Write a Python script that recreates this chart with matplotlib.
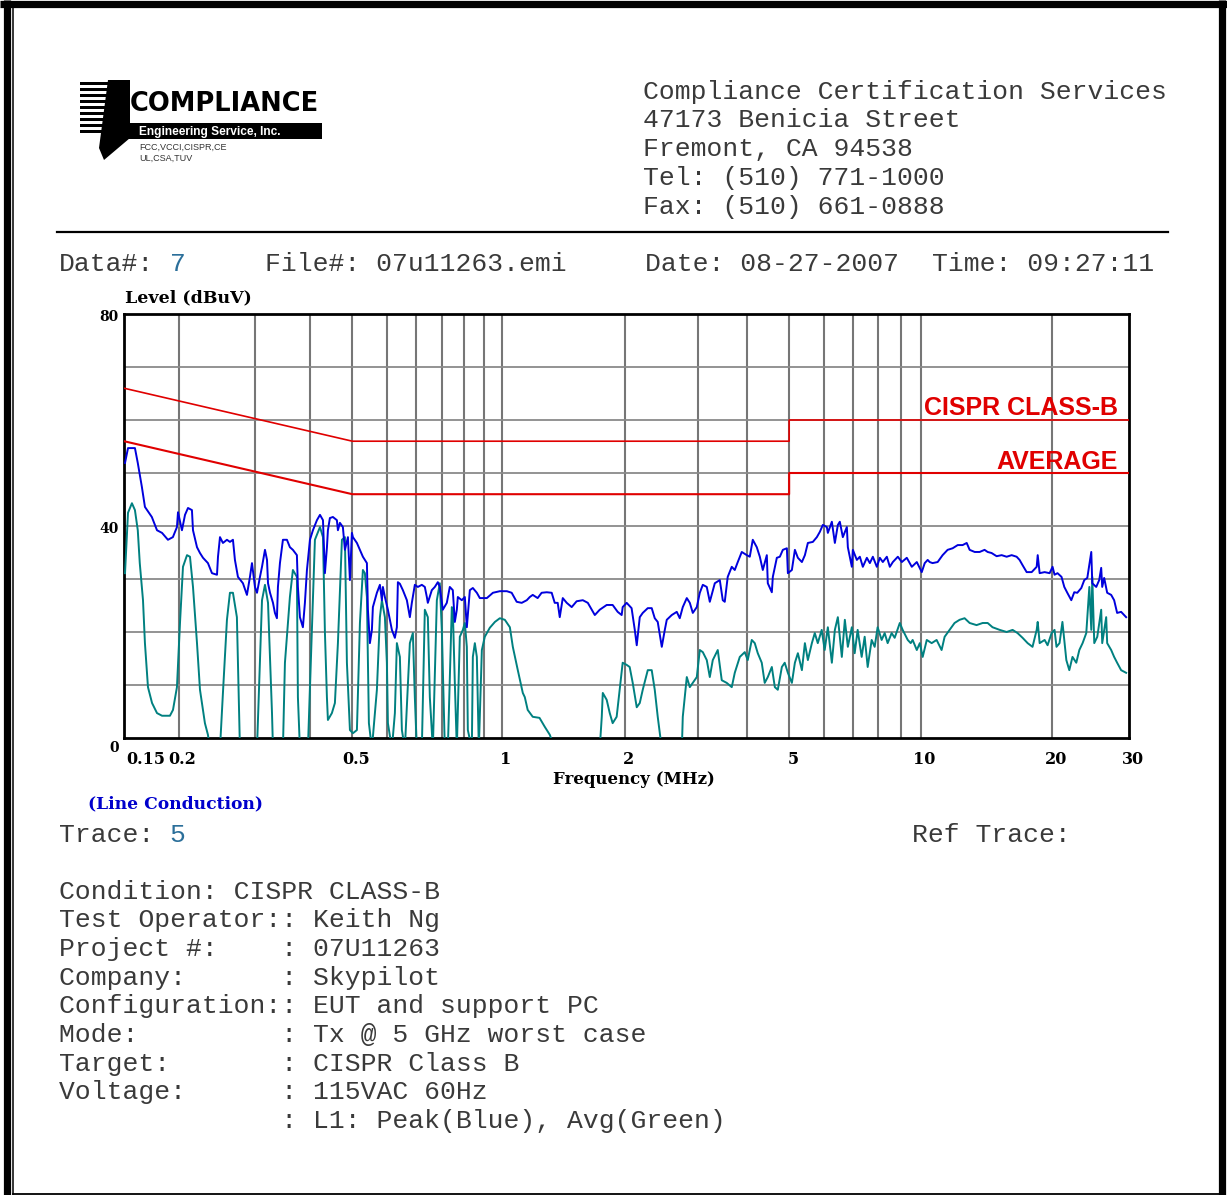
import matplotlib
matplotlib.use('Agg')
import matplotlib.pyplot as plt
import matplotlib.transforms as mtransforms
from matplotlib import font_manager
from matplotlib.patches import Rectangle, Polygon

# ---------------- data ----------------
# peak trace (blue), MHz / dBuV
peak_freq = [
    0.1508, 0.1532, 0.1589, 0.1613, 0.1648, 0.1675, 0.1737, 0.1785, 0.1833, 0.1891,
    0.1941, 0.1983, 0.1994, 0.2036, 0.2069, 0.2102, 0.2146, 0.2158, 0.2204, 0.2239,
    0.2275, 0.2335, 0.2385, 0.2449, 0.2462, 0.2488, 0.2527, 0.2581, 0.2622, 0.2664,
    0.2692, 0.2735, 0.2808, 0.2868, 0.2914, 0.2945, 0.2992, 0.3024, 0.3072, 0.3105,
    0.3154, 0.3188, 0.3205, 0.3239, 0.3290, 0.3324, 0.3359, 0.3377, 0.3413, 0.3467,
    0.3541, 0.3597, 0.3654, 0.3732, 0.3752, 0.3792, 0.3852, 0.3893, 0.3935, 0.3998,
    0.4061, 0.4148, 0.4215, 0.4282, 0.4326, 0.4372, 0.4395, 0.4441, 0.4512, 0.4608,
    0.4633, 0.4682, 0.4756, 0.4807, 0.4884, 0.4936, 0.4988, 0.5014, 0.5121, 0.5203,
    0.5285, 0.5398, 0.5427, 0.5484, 0.5542, 0.5571, 0.5690, 0.5781, 0.5842, 0.5873,
    0.5935, 0.6030, 0.6158, 0.6256, 0.6322, 0.6356, 0.6423, 0.6525, 0.6664, 0.6770,
    0.6841, 0.6950, 0.7061, 0.7211, 0.7326, 0.7404, 0.7443, 0.7601, 0.7722, 0.7845,
    0.7928, 0.8054, 0.8226, 0.8357, 0.8490, 0.8581, 0.8672, 0.8718, 0.8904, 0.9046,
    0.9142, 0.9288, 0.9436, 0.9637, 0.9790, 1.016, 1.049, 1.088, 1.129, 1.158,
    1.189, 1.221, 1.254, 1.274, 1.294, 1.328, 1.356, 1.393, 1.430, 1.453,
    1.476, 1.492, 1.516, 1.548, 1.589, 1.631, 1.685, 1.730, 1.766, 1.795,
    1.842, 1.911, 1.972, 2.025, 2.068, 2.079, 2.123, 2.179, 2.216, 2.239,
    2.275, 2.311, 2.373, 2.423, 2.462, 2.501, 2.555, 2.596, 2.623, 2.693,
    2.765, 2.809, 2.854, 2.915, 2.962, 3.009, 3.073, 3.122, 3.172, 3.239,
    3.291, 3.379, 3.469, 3.524, 3.561, 3.617, 3.695, 3.754, 3.814, 3.895,
    4.000, 4.063, 4.128, 4.216, 4.284, 4.352, 4.445, 4.468, 4.564, 4.588,
    4.686, 4.761, 4.837, 4.941, 4.967, 5.073, 5.154, 5.236, 5.348, 5.433,
    5.519, 5.666, 5.787, 5.879, 5.972, 6.100, 6.132, 6.263, 6.363, 6.464,
    6.532, 6.636, 6.778, 6.814, 6.959, 6.996, 7.145, 7.259, 7.374, 7.532,
    7.652, 7.774, 7.939, 8.066, 8.194, 8.369, 8.502, 8.638, 8.868, 9.056,
    9.297, 9.546, 9.801, 10.06, 10.22, 10.38, 10.49, 10.65, 10.94, 11.23,
    11.53, 11.84, 12.16, 12.48, 12.75, 12.95, 13.30, 13.65, 14.01, 14.24,
    14.54, 14.93, 15.33, 15.74, 16.16, 16.59, 16.85, 17.12, 17.49, 17.96,
    18.44, 18.54, 18.73, 19.23, 19.74, 20.05, 20.26, 20.58, 21.02, 21.33,
    21.67, 22.13, 22.48, 22.84, 23.33, 23.70, 24.08, 24.59, 24.72, 25.24,
    25.64, 25.91, 26.05, 26.32, 26.74, 27.31, 27.74, 28.18, 28.78, 29.55,
]
peak_level = [
    51.9, 54.7, 54.7, 51.9, 47.4, 43.6, 41.7, 39.2, 38.7, 37.4,
    37.9, 39.8, 42.6, 39.2, 42.1, 43.4, 43.0, 39.2, 36.0, 34.9,
    34.0, 33.0, 31.1, 30.8, 34.2, 37.9, 36.8, 37.4, 37.0, 37.4,
    33.6, 30.4, 29.2, 27.0, 30.4, 33.0, 28.5, 27.4, 30.4, 32.3,
    35.5, 33.6, 29.2, 27.4, 25.5, 23.6, 22.6, 28.5, 33.0, 37.4,
    37.4, 36.0, 35.5, 34.5, 28.5, 22.8, 20.9, 25.5, 31.7, 37.4,
    39.2, 41.1, 42.1, 41.1, 31.1, 35.9, 39.2, 41.5, 41.7, 41.1,
    39.2, 40.6, 39.8, 35.5, 37.9, 29.8, 38.7, 37.9, 36.8, 35.5,
    34.2, 33.0, 24.2, 17.9, 20.4, 24.7, 27.4, 28.9, 26.0, 28.5,
    26.6, 24.2, 20.4, 18.9, 20.9, 29.4, 29.1, 27.9, 26.0, 22.8,
    25.5, 28.9, 28.5, 28.9, 28.5, 26.6, 25.5, 27.9, 28.5, 29.4,
    28.5, 24.2, 25.5, 28.5, 27.9, 21.9, 24.2, 26.6, 26.0, 26.6,
    20.9, 27.9, 28.3, 27.4, 26.4, 26.4, 27.4, 27.7, 27.7, 27.4,
    25.7, 25.5, 26.0, 26.6, 27.0, 26.4, 27.4, 27.5, 27.4, 25.5,
    25.5, 22.8, 26.4, 25.5, 24.7, 25.8, 26.0, 25.5, 24.2, 23.2,
    24.2, 25.1, 25.1, 23.8, 23.2, 24.7, 25.5, 24.5, 20.4, 17.5,
    22.8, 23.6, 24.5, 24.5, 22.6, 21.9, 17.2, 20.4, 22.3, 23.2,
    23.8, 22.6, 24.7, 26.4, 25.5, 23.6, 24.7, 27.4, 28.9, 28.5,
    25.7, 29.2, 29.8, 26.0, 25.7, 30.4, 32.3, 31.7, 33.2, 35.1,
    34.5, 34.2, 37.4, 36.0, 34.2, 31.7, 34.5, 29.2, 27.5, 30.4,
    34.0, 34.2, 35.5, 35.8, 31.1, 31.7, 35.5, 34.0, 33.2, 34.5,
    36.8, 37.0, 37.9, 38.9, 40.2, 39.8, 38.7, 40.8, 36.8, 40.2,
    40.8, 37.9, 39.8, 36.0, 32.3, 35.5, 33.6, 34.2, 32.3, 34.0,
    33.0, 34.2, 32.3, 34.0, 33.2, 34.2, 32.3, 33.2, 34.2, 33.2,
    34.0, 32.3, 33.2, 31.3, 33.0, 33.6, 33.2, 33.0, 33.2, 34.5,
    35.5, 35.8, 36.4, 36.4, 36.8, 35.5, 35.1, 35.1, 35.5, 35.1,
    34.9, 34.3, 34.5, 34.2, 34.5, 34.2, 33.6, 32.6, 31.3, 31.3,
    32.3, 34.5, 31.1, 31.3, 31.1, 32.3, 30.8, 31.1, 30.4, 28.5,
    27.4, 26.0, 27.5, 27.4, 28.3, 29.8, 30.2, 35.1, 29.2, 28.5,
    29.8, 32.1, 28.5, 30.2, 27.4, 27.0, 26.0, 23.6, 23.8, 22.8,
]

# average trace (green); -2 marks where the trace runs under the 0 dBuV floor
avg_freq = [
    0.1508, 0.1532, 0.1564, 0.1589, 0.1613, 0.1630, 0.1658, 0.1675, 0.1702, 0.1739,
    0.1785, 0.1833, 0.1911, 0.1942, 0.1983, 0.2015, 0.2047, 0.2091, 0.2124, 0.2158,
    0.2204, 0.2239, 0.2298, 0.2335, 0.2360, 0.2488, 0.2527, 0.2581, 0.2622, 0.2664,
    0.2720, 0.2764, 0.3024, 0.3105, 0.3154, 0.3205, 0.3273, 0.3290, 0.3467, 0.3504,
    0.3597, 0.3654, 0.3732, 0.3752, 0.3792, 0.3955, 0.4039, 0.4104, 0.4215, 0.4282,
    0.4326, 0.4372, 0.4395, 0.4488, 0.4560, 0.4633, 0.4732, 0.4807, 0.4858, 0.4936,
    0.5014, 0.5121, 0.5203, 0.5285, 0.5341, 0.5398, 0.5455, 0.5542, 0.5690, 0.5781,
    0.5842, 0.5935, 0.5998, 0.6030, 0.6158, 0.6256, 0.6322, 0.6423, 0.6491, 0.6594,
    0.6770, 0.6878, 0.6950, 0.7024, 0.7211, 0.7326, 0.7443, 0.7522, 0.7642, 0.7805,
    0.7928, 0.8013, 0.8141, 0.8271, 0.8446, 0.8490, 0.8581, 0.8672, 0.8810, 0.8952,
    0.9046, 0.9142, 0.9190, 0.9386, 0.9436, 0.9536, 0.9637, 0.9739, 0.9895, 1.005,
    1.032, 1.060, 1.088, 1.117, 1.147, 1.165, 1.196, 1.228, 1.241, 1.260,
    1.294, 1.341, 1.379, 1.416, 1.453, 1.842, 1.862, 1.872, 1.911, 1.942,
    1.972, 2.014, 2.046, 2.079, 2.123, 2.157, 2.192, 2.239, 2.275, 2.311,
    2.373, 2.423, 2.462, 2.501, 2.555, 2.840, 2.854, 2.915, 2.962, 3.009,
    3.073, 3.122, 3.172, 3.239, 3.291, 3.343, 3.432, 3.505, 3.598, 3.695,
    3.754, 3.855, 3.957, 4.020, 4.106, 4.171, 4.238, 4.328, 4.396, 4.468,
    4.564, 4.637, 4.710, 4.812, 4.885, 4.967, 5.073, 5.154, 5.236, 5.348,
    5.433, 5.519, 5.637, 5.724, 5.815, 5.937, 6.031, 6.132, 6.263, 6.363,
    6.464, 6.601, 6.707, 6.814, 6.959, 7.064, 7.176, 7.329, 7.446, 7.565,
    7.726, 7.849, 7.973, 8.143, 8.274, 8.405, 8.584, 8.722, 8.961, 9.097,
    9.344, 9.492, 9.589, 9.801, 9.958, 10.11, 10.33, 10.60, 10.88, 11.17,
    11.35, 11.65, 11.96, 12.28, 12.61, 12.95, 13.43, 13.87, 14.24, 14.61,
    15.17, 15.74, 16.24, 16.67, 17.12, 17.58, 18.04, 18.44, 18.54, 18.73,
    19.23, 19.53, 19.95, 20.26, 20.47, 20.80, 21.12, 21.56, 21.90, 22.27,
    22.72, 23.09, 23.49, 23.95, 24.34, 24.59, 24.72, 24.98, 25.38, 25.91,
    26.05, 26.60, 26.74, 27.31, 27.74, 28.18, 28.78, 29.55,
]
avg_level = [
    31.1, 42.5, 44.3, 43.0, 39.2, 33.0, 26.0, 17.9, 9.6, 6.6,
    4.7, 4.2, 4.2, 5.3, 9.6, 21.7, 32.3, 34.5, 34.2, 28.5,
    17.9, 9.1, 2.8, 0.6, -2, -2, 8.5, 22.3, 27.4, 27.4,
    22.8, -2, -2, 26.0, 28.9, 25.5, 4.7, -2, -2, 14.2,
    26.6, 31.7, 30.4, 7.7, -2, -2, 20.4, 37.4, 39.8, 37.9,
    20.0, 7.7, 3.4, 4.7, 6.6, 17.9, 37.4, 37.9, 14.2, 1.5,
    0.9, 1.5, 21.7, 31.7, 31.1, 26.6, 2.8, -2, 9.1, 22.8,
    26.0, 22.8, 14.2, 2.8, -2, 4.7, 17.9, 15.3, 1.5, -2,
    17.9, 19.8, 7.7, -2, -2, 24.2, 22.8, 7.7, -2, 26.0,
    29.2, 20.4, -2, -2, 24.7, 24.2, 10.4, -2, 19.1, 20.4,
    21.7, 17.2, 1.5, -2, 15.3, 17.9, 15.3, -2, 16.6, 19.1,
    20.8, 21.9, 22.6, 22.3, 20.9, 17.2, 12.8, 8.5, 7.7, 5.3,
    4.0, 3.8, 2.1, 0.6, -2, -2, 4.0, 8.5, 7.2, 4.7,
    2.8, 4.0, 9.1, 14.2, 13.8, 13.4, 10.4, 5.8, 6.6, 9.1,
    12.8, 12.8, 9.1, 4.0, -2, -2, 4.0, 11.5, 9.6, 10.4,
    11.5, 16.6, 16.2, 14.7, 11.5, 14.7, 16.6, 10.9, 10.4, 9.6,
    12.3, 15.3, 16.2, 14.7, 18.5, 17.9, 16.0, 14.2, 10.4, 11.5,
    13.4, 9.6, 9.1, 13.4, 14.2, 12.3, 10.4, 14.2, 16.0, 12.8,
    17.9, 14.7, 17.9, 19.8, 17.9, 20.4, 16.6, 20.9, 14.2, 20.4,
    22.8, 15.3, 22.3, 17.2, 20.9, 16.0, 20.4, 15.3, 19.1, 13.4,
    18.5, 17.2, 20.9, 18.5, 19.8, 17.9, 19.8, 18.9, 21.7, 20.4,
    18.5, 17.9, 18.5, 16.6, 17.9, 15.3, 18.5, 17.9, 18.5, 16.6,
    19.1, 20.4, 21.7, 22.3, 22.6, 21.7, 21.3, 21.7, 21.7, 20.9,
    20.4, 20.0, 20.4, 19.8, 18.9, 17.9, 17.2, 20.4, 21.9, 17.9,
    18.5, 17.5, 19.8, 20.4, 17.2, 17.9, 21.9, 14.7, 12.8, 15.3,
    14.2, 16.6, 17.9, 19.8, 28.5, 20.4, 30.4, 17.9, 19.1, 24.2,
    17.9, 22.8, 17.9, 16.6, 15.3, 14.2, 12.8, 12.3,
]

# CISPR 22 class B limits
qp_limit_freq = [0.15, 0.5, 5, 5, 30]
qp_limit_level = [66, 56, 56, 60, 60]
avg_limit_freq = [0.15, 0.5, 5, 5, 30]
avg_limit_level = [56, 46, 46, 50, 50]

# grid lines and labels as the analyser drew them
grid_freqs = [0.2, 0.3, 0.4, 0.5, 0.6, 0.7, 0.8, 0.9, 1.0, 1.1, 2.1, 3.1,
              4, 5, 6, 7, 8, 9, 10, 20]
grid_levels = [10, 20, 30, 40, 50, 60, 70]
xtick_pos = [0.15, 0.2, 0.5, 1.1, 2.1, 5, 10, 20, 30]
xtick_text = ['0.15', '0.2', '0.5', '1', '2', '5', '10', '20', '30']
ytick_pos = [0, 40, 80]

address_lines = ['Compliance Certification Services', '47173 Benicia Street',
                 'Fremont, CA 94538', 'Tel: (510) 771-1000', 'Fax: (510) 661-0888']
info_lines = [
    'Condition: CISPR CLASS-B',
    'Test Operator:: Keith Ng',
    'Project #:    : 07U11263',
    'Company:      : Skypilot',
    'Configuration:: EUT and support PC',
    'Mode:         : Tx @ 5 GHz worst case',
    'Target:       : CISPR Class B',
    'Voltage:      : 115VAC 60Hz',
    '              : L1: Peak(Blue), Avg(Green)',
]

# ---------------- figure ----------------
W, H = 1227, 1195
fig = plt.figure(figsize=(W / 100, H / 100), dpi=100)
fig.patch.set_facecolor('white')

names = {f.name for f in font_manager.fontManager.ttflist}
narrow = 'DejaVu Sans'
for cand in ['Liberation Sans Narrow', 'DejaVu Sans Condensed']:
    if cand in names:
        narrow = cand
        break
mono = 'Liberation Mono'
serif = 'DejaVu Serif'
txt_col = '#3a3a3a'
num_col = '#2b6f9a'

# page layer in pixel coordinates (y down)
page = fig.add_axes([0, 0, 1, 1])
page.set_xlim(0, W)
page.set_ylim(H, 0)
page.axis('off')
page.set_zorder(0)

# frame of the scanned sheet
page.plot([7, 7], [0, H], color='black', lw=5.2, solid_capstyle='butt')
page.plot([0, W], [4, 4], color='black', lw=5.2, solid_capstyle='butt')
page.plot([1222, 1222], [0, H], color='black', lw=5.2, solid_capstyle='butt')
page.plot([13, 1222], [1193.5, 1193.5], color='black', lw=1.3)
page.plot([13, 13], [8, 1194], color='black', lw=1.1)

# logo
for yy in [82, 88, 94, 100, 106, 112, 118, 124, 130]:
    page.add_patch(Rectangle((80, yy), 44, 3, color='black', lw=0))
page.add_patch(Polygon([(108, 80), (130, 80), (130, 138), (104, 160), (99, 148)],
                       closed=True, color='black', lw=0))
page.add_patch(Rectangle((128, 123), 194, 16, color='black', lw=0))
logo_size = 25 if narrow != 'DejaVu Sans' else 18.5
page.text(130, 111, 'COMPLIANCE', fontsize=logo_size, fontweight='bold',
          family=narrow, color='black', va='baseline', ha='left')
page.text(139, 135, 'Engineering Service, Inc.', fontsize=8.6, fontweight='bold',
          family='Liberation Sans', color='white', va='baseline', ha='left')
page.text(139, 150, 'FCC,VCCI,CISPR,CE', fontsize=6.5, family='Liberation Sans',
          color='#333333', va='baseline', ha='left')
page.text(139, 161, 'UL,CSA,TUV', fontsize=6.5, family='Liberation Sans',
          color='#333333', va='baseline', ha='left')

# address block
for i, line in enumerate(address_lines):
    page.text(643, 98.5 + i * 28.8, line, family=mono, fontsize=19,
              color=txt_col, va='baseline', ha='left')
page.plot([57, 1168], [232, 232], color='black', lw=1.6)

# data line
cw = 15.8  # width of one monospace character in px
page.text(59, 270.5, 'Data#:', family=mono, fontsize=19, color=txt_col, va='baseline')
page.text(59 + 7 * cw, 270.5, '7', family=mono, fontsize=19, color=num_col, va='baseline')
page.text(265, 270.5, 'File#: 07u11263.emi', family=mono, fontsize=19, color=txt_col, va='baseline')
page.text(645, 270.5, 'Date: 08-27-2007', family=mono, fontsize=19, color=txt_col, va='baseline')
page.text(932, 270.5, 'Time: 09:27:11', family=mono, fontsize=19, color=txt_col, va='baseline')

# axis titles around the plot
page.text(125, 298, 'Level (dBuV)', family=serif, fontsize=12.5, fontweight='bold',
          color='black', va='center', ha='left')
page.text(88, 804, '(Line Conduction)', family=serif, fontsize=12.3, fontweight='bold',
          color='#0000cc', va='center', ha='left')

# trace / info block
page.text(59, 841.5, 'Trace:', family=mono, fontsize=19, color=txt_col, va='baseline')
page.text(59 + 7 * cw, 841.5, '5', family=mono, fontsize=19, color=num_col, va='baseline')
page.text(912, 841.5, 'Ref Trace:', family=mono, fontsize=19, color=txt_col, va='baseline')
for i, line in enumerate(info_lines):
    page.text(59, 898.5 + i * 28.7, line, family=mono, fontsize=19,
              color=txt_col, va='baseline', ha='left')

# ---------------- plot area ----------------
ax = fig.add_axes([124 / W, (H - 738) / H, 1005 / W, 424 / H])
ax.set_zorder(1)
ax.set_facecolor('white')
ax.set_xscale('log')
ax.set_xlim(0.15, 30)
ax.set_ylim(0, 80)

for f in grid_freqs:
    ax.axvline(f, color='#767676', lw=1.5, zorder=1)
for lv in grid_levels:
    ax.axhline(lv, color='#8a8a8a', lw=1.3, zorder=1)

ax.plot(qp_limit_freq, qp_limit_level, color='#e00000', lw=1.2, zorder=3)
ax.plot(avg_limit_freq, avg_limit_level, color='#e00000', lw=1.5, zorder=3)
ax.plot(avg_freq, avg_level, color='#008080', lw=1.4, zorder=4)
ax.plot(peak_freq, peak_level, color='#0000dd', lw=1.4, zorder=5)

ax.text(0.989, 62.3, 'CISPR CLASS-B', transform=ax.get_yaxis_transform(),
        ha='right', va='center', color='#e00000', fontsize=18,
        fontweight='bold', family='Liberation Sans', zorder=6)
ax.text(0.989, 52.1, 'AVERAGE', transform=ax.get_yaxis_transform(),
        ha='right', va='center', color='#e00000', fontsize=18,
        fontweight='bold', family='Liberation Sans', zorder=6)

ax.set_xticks([])
ax.set_yticks([])
ax.minorticks_off()
for s in ax.spines.values():
    s.set_linewidth(2.0)
    s.set_color('black')

# tick labels (placed on the axes' own transforms, nudged like the original)
xlab_tr = mtransforms.offset_copy(ax.get_xaxis_transform(), fig=fig, x=4, y=-22, units='dots')
first_tr = mtransforms.offset_copy(ax.get_xaxis_transform(), fig=fig, x=2, y=-22, units='dots')
for pos, lab in zip(xtick_pos, xtick_text):
    if lab == '0.15':
        ax.text(pos, 0, lab, transform=first_tr, ha='left', va='center', family=serif,
                fontsize=11.5, fontweight='bold', clip_on=False)
    else:
        ax.text(pos, 0, lab, transform=xlab_tr, ha='center', va='center', family=serif,
                fontsize=11.5, fontweight='bold', clip_on=False)
ylab_tr = mtransforms.offset_copy(ax.get_yaxis_transform(), fig=fig, x=-5, y=-3, units='dots')
for pos in ytick_pos:
    ax.text(0, pos, str(pos), transform=ylab_tr, ha='right',
            va='top' if pos == 0 else 'center', family=serif, fontsize=10,
            fontweight='bold', clip_on=False)

ax.text(0.5, 0, 'Frequency (MHz)', transform=mtransforms.offset_copy(
    ax.transAxes, fig=fig, x=7, y=-42, units='dots'), ha='center', va='center',
    family=serif, fontsize=12, fontweight='bold', clip_on=False)

fig.savefig('out.png', dpi=100, facecolor='white')
